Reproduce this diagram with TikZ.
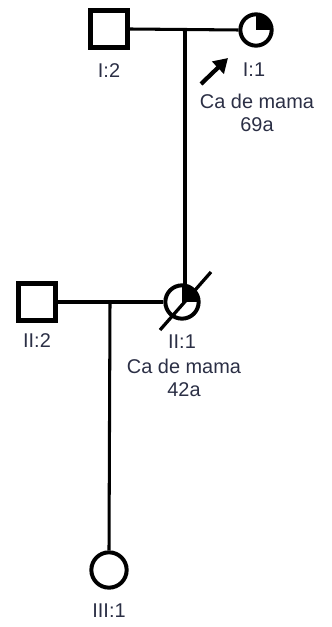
\documentclass[tikz,border=0pt]{standalone}
\usepackage{fontspec}
\setmainfont{Liberation Sans}
\usetikzlibrary{arrows.meta,positioning}
\definecolor{ink}{HTML}{2B2F45}

\begin{document}
\begin{tikzpicture}[
  x=0.03cm,y=0.03cm,
  font=\fontsize{17}{20}\selectfont,
  male/.style={rectangle,draw=black,line width=4.5pt,fill=white,
              inner sep=0pt,minimum size=1.11cm},
  female/.style={circle,draw=black,line width=3.4pt,fill=white,
              inner sep=0pt,minimum size=#1},
  female/.default=0.98cm,
  affected/.style={path picture={\fill[black] (path picture bounding box.center)
              rectangle (path picture bounding box.north east);}},
  rel/.style={draw=black,line width=2.6pt},
  lbl/.style={text=ink,align=center,inner sep=1pt}
]
\useasboundingbox (0,0) rectangle (331,-627);

% --- generation I
\node[male]                   (I2) at (109,-29) {};
\node[female=0.94cm,affected] (I1) at (256,-30) {};
\coordinate (m1) at (185,-29);
\draw[rel] (I2.east) -- (I1.west);

\node[lbl] (I2l) at (109,-71) {I:2};
\node[lbl] (I1l) at (254,-70) {I:1};
\node[lbl] (I1t) at (257,-113) {Ca de mama\\69a};
\coordinate (pa) at (201,-84);
\coordinate (pb) at (228,-58);
\draw[line width=3.6pt,-{Triangle[length=12pt,width=14pt]}] (pa) -- (pb);

% --- generation II
\node[male]                   (II2) at (37,-302) {};
\node[female=1.0cm,affected]  (II1) at (182,-302) {};
\coordinate (m2) at (110,-302);
\draw[rel] (II2.east) -- (II1.west);
\draw[rel] (m1) -- (m1 |- II1.north) -- ++(0,-6);
\coordinate (d1) at (160,-330);
\coordinate (d2) at (211,-272);
\draw[line width=2.8pt] (d1) -- (d2);

\node[lbl] (II2l) at (37,-341) {II:2};
\node[lbl] (II1l) at (182,-342) {II:1};
\node[lbl] (II1t) at (184,-378) {Ca de mama\\42a};

% --- generation III
\node[female=1.06cm] (III1) at (109,-570) {};
\draw[rel] (m2) -- (III1.north);
\node[lbl] (III1l) at (109,-611) {III:1};
\end{tikzpicture}
\end{document}
